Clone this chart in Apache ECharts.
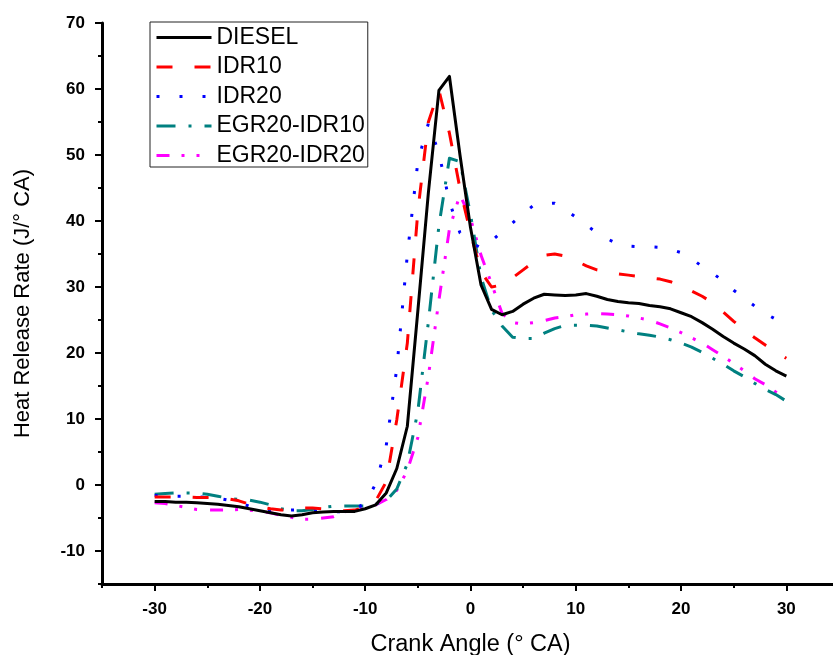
<!DOCTYPE html>
<html>
<head>
<meta charset="utf-8">
<script src="https://cdn.jsdelivr.net/npm/echarts@6/dist/echarts.min.js"></script>
<style>html,body{margin:0;padding:0;background:#fff}#c{width:833px;height:655px}</style>
</head>
<body>
<div id="c"></div>
<script>
const crankAngle = [-30,-29,-28,-27,-26,-25,-24,-23,-22,-21,-20,-19,-18,-17,-16,-15,-14,-13,-12,-11,-10,-9,-8,-7,-6,-5,-4,-3,-2,-1,0,1,2,3,4,5,6,7,8,9,10,11,12,13,14,15,16,17,18,19,20,21,22,23,24,25,26,27,28,29,30];
const seriesNames = ['DIESEL','IDR10','IDR20','EGR20-IDR10','EGR20-IDR20'];
const diesel = [-2.5,-2.5,-2.6,-2.6,-2.7,-2.8,-2.9,-3.1,-3.3,-3.6,-3.9,-4.2,-4.5,-4.7,-4.5,-4.2,-4.1,-4.0,-4.0,-4.0,-3.6,-3.0,-1.2,2.5,8.9,26.4,44.3,59.8,61.9,50.0,39.0,30.3,26.6,25.8,26.3,27.4,28.3,28.9,28.8,28.7,28.8,29.0,28.6,28.1,27.8,27.6,27.5,27.2,27.0,26.7,26.1,25.5,24.6,23.6,22.5,21.5,20.6,19.6,18.3,17.3,16.5];
const idr10 = [-1.8,-1.8,-1.8,-1.8,-1.9,-1.9,-2.0,-2.1,-2.4,-2.9,-3.3,-3.6,-3.8,-3.7,-3.5,-3.5,-3.6,-3.8,-3.9,-3.8,-3.4,-2.4,0.5,9.9,21.5,41.5,55.0,59.8,53.3,44.9,38.2,32.3,30.0,30.3,31.4,32.6,33.8,34.8,35.0,34.7,34.0,33.2,32.6,32.3,32.0,31.8,31.6,31.4,31.2,30.8,30.2,29.4,28.6,27.6,26.2,24.8,23.5,22.3,21.2,20.1,19.2];
const idr20 = [-1.6,-1.6,-1.7,-1.7,-1.8,-1.9,-2.0,-2.3,-2.7,-3.2,-3.6,-3.9,-3.9,-3.8,-3.8,-3.9,-4.0,-4.1,-4.0,-3.6,-2.8,0.2,6.0,17.7,34.9,49.0,54.8,50.3,42.9,38.2,36.8,35.9,37.0,38.4,39.7,41.1,42.4,42.6,42.7,41.7,40.6,39.4,38.2,37.3,36.5,36.2,36.1,36.1,36.0,35.7,35.2,34.3,33.1,32.1,30.9,29.5,28.3,27.1,26.0,25.1,24.4];
const egr20Idr10 = [-1.4,-1.3,-1.2,-1.2,-1.2,-1.4,-1.7,-2.0,-2.2,-2.3,-2.6,-3.0,-3.6,-3.9,-3.9,-3.7,-3.4,-3.2,-3.2,-3.2,-3.2,-2.9,-2.4,-0.6,3.2,11.2,24.7,39.3,49.5,49.0,41.0,31.5,26.5,24.1,22.4,22.2,22.2,23.0,23.7,24.2,24.2,24.2,24.1,23.8,23.5,23.2,22.9,22.7,22.4,22.0,21.5,20.9,20.1,19.2,18.3,17.3,16.4,15.4,14.5,13.7,12.7];
const egr20Idr20 = [-2.7,-2.8,-3.1,-3.4,-3.7,-3.8,-3.8,-3.8,-3.7,-3.8,-4.0,-4.2,-4.6,-4.9,-5.2,-5.2,-5.0,-4.8,-4.1,-3.7,-3.4,-3.0,-2.2,-0.8,2.2,7.2,16.5,28.0,38.8,44.0,40.4,34.8,30.5,26.0,24.6,24.4,24.6,24.9,25.3,25.5,25.8,25.9,26.0,25.9,25.8,25.6,25.3,25.0,24.4,23.8,23.1,22.3,21.5,20.5,19.5,18.4,17.3,16.1,15.2,14.1,13.1];

const xMin = -35, xMax = 35, yMin = -15, yMax = 70;
const xLabMin = -30, xLabMax = 30, yLabMin = -10, yLabMax = 70;

const L = 102, W = 737, T = 23, H = 561;
const pxX = W / (xMax - xMin), pxY = H / (yMax - yMin);
const g2Left = L + (xLabMin - xMin) * pxX;
const g2Width = (xLabMax - xLabMin) * pxX;
const g2Height = (yLabMax - yLabMin) * pxY;
const g2Top = T + (yMax - yLabMax) * pxY;

const FONT = 'Arial, "Liberation Sans", sans-serif';
const colors = ['#000000','#ff0000','#0000ff','#008080','#ff00ff'];
const dashes = ['solid',[16,22],[3,20],[19,13,3,13],[13,12,3,12,3,13]];
const values = [diesel, idr10, idr20, egr20Idr10, egr20Idr20];

const chart = echarts.init(document.getElementById('c'), null, {renderer:'canvas'});
chart.setOption({
  animation: false,
  backgroundColor: '#fff',
  grid: [
    {left: L, top: T, width: W, height: H, containLabel: false, outerBoundsMode: 'none'},
    {left: g2Left, top: g2Top, width: g2Width, height: g2Height, containLabel: false, outerBoundsMode: 'none'}
  ],
  legend: {
    orient: 'vertical', left: 150, top: 22,
    itemWidth: 55, itemHeight: 14, itemGap: 6.5,
    padding: [4, 3, 0, 5],
    borderColor: '#222', borderWidth: 1,
    itemStyle: {color: 'rgba(0,0,0,0)', borderWidth: 0, opacity: 0},
    lineStyle: {width: 3},
    textStyle: {fontFamily: FONT, fontSize: 23, lineHeight: 23, color: '#000'},
    data: seriesNames
  },
  xAxis: [
    {type:'value', gridIndex:0, min:xMin, max:xMax, interval:5,
     name:'Crank Angle (° CA)', nameLocation:'middle', nameGap:49,
     nameTextStyle:{fontFamily:FONT, fontSize:23.5, color:'#000'},
     axisLine:{show:true, onZero:false, lineStyle:{color:'#000', width:3}},
     axisTick:{show:true, inside:false, length:4, lineStyle:{color:'#000', width:2}},
     axisLabel:{show:false}, splitLine:{show:false}},
    {type:'value', gridIndex:1, min:xLabMin, max:xLabMax, interval:10, offset:(yLabMin - yMin) * pxY,
     axisLine:{show:false, onZero:false},
     axisTick:{show:true, inside:false, length:7, lineStyle:{color:'#000', width:2}},
     axisLabel:{show:true, margin:17, fontFamily:FONT, fontSize:17, fontWeight:'bold', color:'#000'},
     splitLine:{show:false}}
  ],
  yAxis: [
    {type:'value', gridIndex:0, min:yMin, max:yMax, interval:5,
     name:'Heat Release Rate (J/° CA)', nameLocation:'middle', nameGap:68,
     nameTextStyle:{fontFamily:FONT, fontSize:22, color:'#000'},
     axisLine:{show:true, onZero:false, lineStyle:{color:'#000', width:3}},
     axisTick:{show:true, inside:false, length:4, lineStyle:{color:'#000', width:2}},
     axisLabel:{show:false}, splitLine:{show:false}},
    {type:'value', gridIndex:1, min:yLabMin, max:yLabMax, interval:10, offset:(xLabMin - xMin) * pxX,
     axisLine:{show:false, onZero:false},
     axisTick:{show:true, inside:false, length:7, lineStyle:{color:'#000', width:2}},
     axisLabel:{show:true, margin:17, fontFamily:FONT, fontSize:17, fontWeight:'bold', color:'#000'},
     splitLine:{show:false}}
  ],
  series: seriesNames.map((n, i) => ({
    name: n, type: 'line', xAxisIndex: 0, yAxisIndex: 0,
    data: crankAngle.map((a, k) => [a, values[i][k]]),
    symbol: 'none', smooth: false,
    color: colors[i],
    lineStyle: {color: colors[i], width: 3, type: dashes[i], cap: 'butt', join: 'round'},
    z: 10 - i
  }))
});
</script>
</body>
</html>
